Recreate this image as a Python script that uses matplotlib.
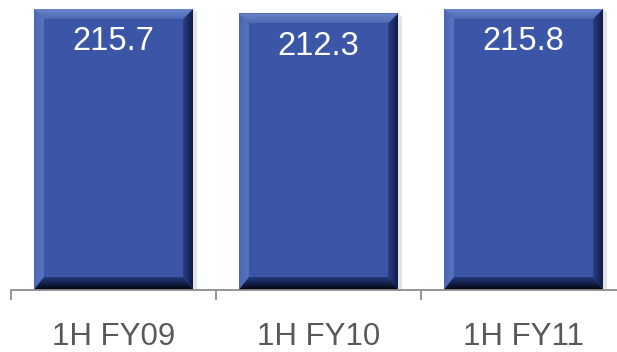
import numpy as np
import matplotlib
matplotlib.use("Agg")
import matplotlib.pyplot as plt
from matplotlib.patches import Polygon

plt.rcParams['font.family'] = ['Liberation Sans', 'DejaVu Sans']

periods = ["1H FY09", "1H FY10", "1H FY11"]
values = [215.7, 212.3, 215.8]

W, H, DPI = 617, 352, 100
fig = plt.figure(figsize=(W / DPI, H / DPI), dpi=DPI)
# axes runs a bit past the right edge so the last category is cut like the slide
ax = fig.add_axes([11 / W, 62 / H, 615 / W, 290 / H])
ax.set_xlim(-0.5, len(periods) - 0.5)
ax.set_ylim(0, 222.6)

face = "#3b56a6"
bar_w = 0.776
bevel = 10  # px

x = np.arange(len(periods))
bars = ax.bar(x, values, width=bar_w, color=face, zorder=2)

fig.canvas.draw()
to_px = ax.transData
inv = ax.transData.inverted()


def facet(pts, c0, c1, vertical, z=3):
    # fill a polygon with a linear gradient from c0 to c1
    poly = Polygon(pts, closed=True, facecolor="none", edgecolor="none")
    ax.add_patch(poly)
    xs = [p[0] for p in pts]
    ys = [p[1] for p in pts]
    grad = np.linspace(0, 1, 64)
    grad = grad[:, None] if vertical else grad[None, :]
    cmap = matplotlib.colors.LinearSegmentedColormap.from_list("g", [c0, c1])
    im = ax.imshow(grad, cmap=cmap, extent=[min(xs), max(xs), min(ys), max(ys)],
                   origin="lower", aspect="auto", zorder=z, interpolation="bilinear")
    im.set_clip_path(poly)


for b in bars:
    x0, y0 = b.get_x(), b.get_y()
    x1, y1 = x0 + b.get_width(), y0 + b.get_height()
    (px0, py0), (px1, py1) = to_px.transform([(x0, y0), (x1, y1)])
    (ix0, iy0), (ix1, iy1) = inv.transform([(px0 + bevel, py0 + bevel + 3),
                                             (px1 - bevel, py1 - bevel)])
    # soft shadow on the right
    sx = inv.transform([(px1 + 4, py0)])[0][0]
    ax.add_patch(Polygon([(x1, y0), (sx, y0), (sx, y1 - 3), (x1, y1)],
                         facecolor="#e3e3e3", edgecolor="none", zorder=1))
    # left
    facet([(x0, y0), (ix0, iy0), (ix0, iy1), (x0, y1)], "#4a67b6", "#5674bf", False)
    # right
    facet([(x1, y0), (x1, y1), (ix1, iy1), (ix1, iy0)], "#2a3f87", "#101a45", False)
    # top
    facet([(x0, y1), (ix0, iy1), (ix1, iy1), (x1, y1)], "#4c69b5", "#6a86c9", True)
    # bottom
    facet([(x0, y0), (x1, y0), (ix1, iy0), (ix0, iy0)], "#02040c", "#253a7e", True)

for xi, v in zip(x, values):
    ax.annotate(f"{v:.1f}", (xi, v), xytext=(0, -33), textcoords="offset pixels",
                ha="center", va="center", color="white", fontsize=23.5, zorder=5)

for s in ["top", "left", "right"]:
    ax.spines[s].set_visible(False)
ax.spines["bottom"].set_color("#8c8c8c")
ax.spines["bottom"].set_linewidth(1.3)
ax.spines["bottom"].set_zorder(4)
ax.set_yticks([])
ax.set_xticks(x)
ax.set_xticklabels(periods, fontsize=22.5, color="#595959")
ax.tick_params(axis="x", which="major", length=0, pad=23)
ax.set_xticks(np.arange(len(periods) + 1) - 0.5, minor=True)
ax.tick_params(axis="x", which="minor", length=7, width=1.3, color="#8c8c8c")

fig.savefig("out.png", dpi=DPI)
